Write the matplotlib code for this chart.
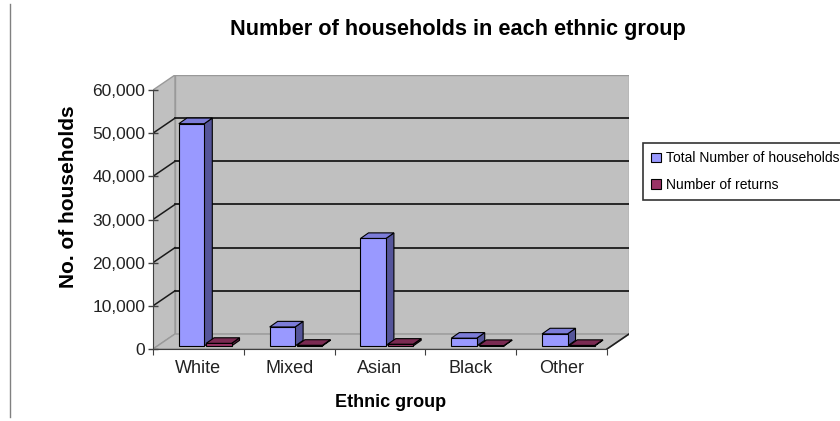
import matplotlib
matplotlib.use("Agg")
import matplotlib.pyplot as plt
from matplotlib.patches import Polygon, Rectangle
from matplotlib.lines import Line2D
from matplotlib.ticker import FuncFormatter

categories = ["White", "Mixed", "Asian", "Black", "Other"]
total_households = [51500, 4400, 24900, 1800, 2800]
returns = [600, 150, 400, 100, 120]
y_ticks = [0, 10000, 20000, 30000, 40000, 50000, 60000]

plt.rcParams["font.family"] = ["Liberation Sans", "DejaVu Sans"]

fig = plt.figure(figsize=(8.4, 4.21), dpi=100)
fig.patch.set_facecolor("white")

# left page border line
fig.add_artist(Line2D([10 / 840, 10 / 840], [0.01, 0.99], color="#808080", lw=1))

# oblique depth offset of the back wall (x in category units, y in value units)
dx, dy = 0.242, 3475
ymax = 60000
n = len(categories)

ax = fig.add_axes([153 / 840, 72 / 421, 476 / 840, 274 / 421])
ax.set_xlim(0, n + dx)
ax.set_ylim(0, ymax + dy)
ax.patch.set_visible(False)

wall = "#c0c0c0"
# back wall, side wall, floor
ax.add_patch(Polygon([(dx, dy), (n + dx, dy), (n + dx, ymax + dy), (dx, ymax + dy)],
                     closed=True, fc=wall, ec="#999999", lw=1, zorder=1))
ax.add_patch(Polygon([(0, 0), (dx, dy), (dx, ymax + dy), (0, ymax)],
                     closed=True, fc=wall, ec="#999999", lw=1, zorder=1))
ax.add_patch(Polygon([(0, 0), (n, 0), (n + dx, dy), (dx, dy)],
                     closed=True, fc=wall, ec="#999999", lw=1, zorder=1))
ax.plot([n, n + dx], [0, dy], color="#202020", lw=1.2, zorder=2)

# gridlines on walls
for v in y_ticks[1:-1]:
    ax.plot([dx, n + dx], [v + dy, v + dy], color="#1a1a1a", lw=1.3, zorder=2)
    ax.plot([0, dx], [v, v + dy], color="#1a1a1a", lw=1.1, zorder=2)

# 3D-looking bars
bar_w = 0.28
bar_off = [0.285, 0.585]
base = 700
ddx, ddy = 0.088, 1300
styles = [("#9999ff", "#55559a", "#7c7cd8"), ("#993366", "#5a1d3c", "#7a2a52")]
for k, series in enumerate([total_households, returns]):
    front, side, top = styles[k]
    for i, v in enumerate(series):
        x0 = i + bar_off[k]
        x1 = x0 + bar_w
        y1 = base + v
        ax.add_patch(Polygon([(x1, base), (x1 + ddx, base + ddy), (x1 + ddx, y1 + ddy), (x1, y1)],
                             closed=True, fc=side, ec="black", lw=0.8, zorder=3 + k))
        ax.add_patch(Polygon([(x0, y1), (x0 + ddx, y1 + ddy), (x1 + ddx, y1 + ddy), (x1, y1)],
                             closed=True, fc=top, ec="black", lw=0.8, zorder=3 + k))
        ax.add_patch(Rectangle((x0, base), bar_w, v, fc=front, ec="black", lw=0.8, zorder=3 + k))

# axes
for s in ["top", "right"]:
    ax.spines[s].set_visible(False)
ax.spines["left"].set_bounds(0, ymax)
ax.spines["bottom"].set_bounds(0, n)
for s in ["left", "bottom"]:
    ax.spines[s].set_color("#404040")
    ax.spines[s].set_zorder(6)

ax.set_yticks(y_ticks)
ax.yaxis.set_major_formatter(FuncFormatter(lambda v, p: f"{int(v):,}"))
ax.tick_params(axis="y", direction="inout", length=7, width=1, color="#404040",
               labelsize=12.5, labelcolor="#222222", pad=2)
ax.set_xticks(range(n + 1))
ax.set_xticklabels([])
ax.set_xticks([i + 0.5 for i in range(n)], minor=True)
ax.set_xticklabels(categories, minor=True)
ax.tick_params(axis="x", which="major", direction="out", length=4, color="#404040")
ax.tick_params(axis="x", which="minor", length=0, labelsize=13, labelcolor="#222222", pad=8)

ax.set_ylabel("No. of households", fontsize=15, fontweight="bold")
ax.yaxis.set_label_coords(-0.158, 0.555)
ax.set_xlabel("Ethnic group", fontsize=13, fontweight="bold", labelpad=12)

fig.text(458 / 840, 1 - 30 / 421, "Number of households in each ethnic group",
         ha="center", va="center", fontsize=15.7, fontweight="bold")

handles = [Rectangle((0, 0), 1, 1, fc=styles[0][0], ec="black", lw=0.8),
           Rectangle((0, 0), 1, 1, fc=styles[1][0], ec="black", lw=0.8)]
leg = fig.legend(handles, ["Total Number of households", "Number of returns"],
                 loc="upper left", bbox_to_anchor=(643 / 840, 1 - 143 / 421),
                 fontsize=10, frameon=True, fancybox=False, handlelength=0.7,
                 handleheight=0.7, handletextpad=0.35, borderpad=0.6, labelspacing=0.9,
                 borderaxespad=0)
leg.get_frame().set_edgecolor("black")
leg.get_frame().set_linewidth(1.2)

fig.savefig("out.png", dpi=100)
